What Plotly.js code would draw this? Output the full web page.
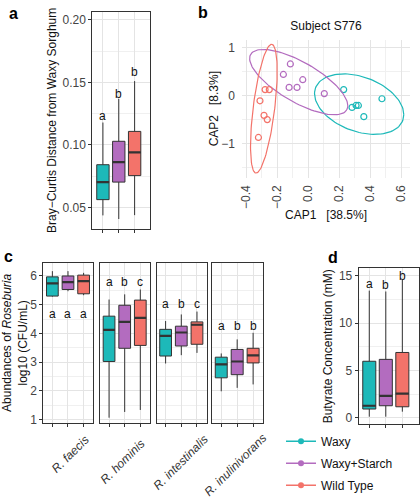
<!DOCTYPE html>
<html><head><meta charset="utf-8">
<script src="https://cdn.plot.ly/plotly-3.0.1.min.js"></script>
<style>html,body{margin:0;padding:0;background:#fff}#chart{width:420px;height:500px}</style>
</head><body><div id="chart"></div>
<script>
// ---------- data ----------
const groups = ['Waxy', 'Waxy+Starch', 'Wild Type'];

// Panel a: Bray-Curtis distance from waxy sorghum (box stats per group)
const aLow  = [0.0437, 0.0408, 0.0439];
const aQ1   = [0.0563, 0.0703, 0.0755];
const aMed  = [0.0703, 0.0863, 0.0940];
const aQ3   = [0.0842, 0.1029, 0.1108];
const aHigh = [0.1179, 0.1368, 0.1510];
const aLetters = ['a', 'b', 'b'];
const aLetterY = [0.1235, 0.1408, 0.1585];

// Panel b: CAP ordination, subject S776
const bWaxyX   = [0.230, 0.477, 0.284, 0.310, 0.325, 0.360];
const bWaxyY   = [0.124, -0.068, -0.248, -0.207, -0.207, -0.441];
const bStarchX = [-0.114, -0.159, -0.122, -0.071, -0.034, 0.105];
const bStarchY = [0.66, 0.44, 0.17, 0.17, 0.33, 0.04];
const bWildX   = [-0.277, -0.250, -0.310, -0.284, -0.263, -0.320];
const bWildY   = [0.124, 0.124, -0.110, -0.414, -0.503, -0.876];
// ellipse per group: centre, half-axis vectors (data units)
const bEllCentre = [[0.33, -0.18], [-0.06, 0.28], [-0.285, -0.275]];
const bEllAxisA  = [[0.288, -0.219], [0.31, -0.58], [0.05, 1.345]];
const bEllAxisB  = [[0.0, 0.593], [0.065, 0.36], [0.07, 0.0]];

// Panel c: abundances of Roseburia, log10 CFU/mL (rows: species, cols: groups)
const species = ['R. faecis', 'R. hominis', 'R. intestinalis', 'R. inulinivorans'];
const cLow  = [[5.28, 5.47, 5.33], [1.06, 1.26, 1.33], [2.95, 3.24, 3.32], [1.98, 2.10, 2.22]];
const cQ1   = [[5.30, 5.53, 5.38], [3.02, 3.48, 3.58], [3.21, 3.56, 3.62], [2.45, 2.56, 2.97]];
const cMed  = [[5.74, 5.79, 5.82], [4.12, 4.40, 4.54], [3.91, 4.03, 4.30], [2.92, 3.02, 3.23]];
const cQ3   = [[5.97, 6.00, 6.03], [4.60, 4.98, 5.16], [4.14, 4.25, 4.40], [3.17, 3.44, 3.48]];
const cHigh = [[6.17, 6.17, 6.11], [5.18, 5.36, 5.53], [4.43, 4.66, 4.76], [3.30, 3.79, 4.02]];
const cLetters = [['a', 'a', 'a'], ['a', 'b', 'c'], ['a', 'b', 'c'], ['a', 'b', 'b']];
const cLetterY = [4.66, 5.79, 5.03, 4.25];

// Panel d: butyrate concentration (mM)
const dLow  = [0.10, 0.10, 0.63];
const dQ1   = [0.91, 1.26, 1.15];
const dMed  = [1.26, 2.30, 2.55];
const dQ3   = [5.97, 6.17, 6.90];
const dHigh = [13.45, 13.36, 14.58];
const dLetters = ['a', 'b', 'b'];
const dLetterY = [14.1, 14.0, 15.05];

// ---------- style ----------
const colors = ['#1DB9B9', '#B36CBF', '#F3736A'];
const FONT = 'Liberation Sans, Arial, Helvetica, sans-serif';
const GRID = '#E4E4E4', MINOR = '#F0F0F0', EDGE = '#333333';
const W = 420, H = 500;
const px = v => v / W, py = v => 1 - v / H;

const traces = [], shapes = [], annotations = [];

function addBox(xa, ya, gi, low, q1, med, q3, high, width) {
  traces.push({
    type: 'box', xaxis: xa, yaxis: ya, x: [gi + 1],
    q1: [q1], median: [med], q3: [q3], lowerfence: [low], upperfence: [high],
    width: width, fillcolor: colors[gi], line: {color: EDGE, width: 1},
    whiskerwidth: 0, boxpoints: false, showlegend: false, hoverinfo: 'skip'
  });
  shapes.push({type: 'line', xref: xa, yref: ya, x0: gi + 1 - width / 2, x1: gi + 1 + width / 2,
    y0: med, y1: med, line: {color: EDGE, width: 2.2}});
}
function addLetter(xa, ya, gi, txt, y) {
  annotations.push({xref: xa, yref: ya, x: gi + 1, y: y, text: txt, showarrow: false,
    font: {family: FONT, size: 12, color: '#111'}, xanchor: 'center', yanchor: 'middle'});
}

// panel a
groups.forEach((g, i) => {
  addBox('x', 'y', i, aLow[i], aQ1[i], aMed[i], aQ3[i], aHigh[i], 0.78);
  addLetter('x', 'y', i, aLetters[i], aLetterY[i]);
});

// panel b points + ellipses
const bX = [bWaxyX, bStarchX, bWildX], bY = [bWaxyY, bStarchY, bWildY];
groups.forEach((g, i) => {
  const ex = [], ey = [];
  for (let k = 0; k <= 120; k++) {
    const t = 2 * Math.PI * k / 120;
    ex.push(bEllCentre[i][0] + Math.cos(t) * bEllAxisA[i][0] + Math.sin(t) * bEllAxisB[i][0]);
    ey.push(bEllCentre[i][1] + Math.cos(t) * bEllAxisA[i][1] + Math.sin(t) * bEllAxisB[i][1]);
  }
  traces.push({type: 'scatter', mode: 'lines', x: ex, y: ey, xaxis: 'x2', yaxis: 'y2',
    line: {color: colors[i], width: 1.2}, showlegend: false, hoverinfo: 'skip'});
  traces.push({type: 'scatter', mode: 'markers', x: bX[i], y: bY[i], xaxis: 'x2', yaxis: 'y2',
    marker: {symbol: 'circle-open', size: 6, color: colors[i], line: {width: 1.2, color: colors[i]}},
    showlegend: false, name: g});
});
// legend entries
groups.forEach((g, i) => {
  traces.push({type: 'scatter', mode: 'lines+markers', x: [null], y: [null], xaxis: 'x2', yaxis: 'y2',
    name: g, legendgroup: 'g' + i, line: {color: colors[i], width: 1.5},
    marker: {color: colors[i], size: 6}, showlegend: true});
});

// panel c facets
const cX = ['x3', 'x4', 'x5', 'x6'], cY = ['y3', 'y4', 'y5', 'y6'];
species.forEach((s, k) => {
  groups.forEach((g, i) => {
    addBox(cX[k], cY[k], i, cLow[k][i], cQ1[k][i], cMed[k][i], cQ3[k][i], cHigh[k][i], 0.75);
    addLetter(cX[k], cY[k], i, cLetters[k][i], cLetterY[k]);
  });
});
const specLabelPos = [[95, 435], [150, 439], [213, 435], [272, 433]];
species.forEach((s, k) => {
  annotations.push({xref: 'paper', yref: 'paper', x: px(specLabelPos[k][0]), y: py(specLabelPos[k][1]),
    text: '<i>' + s + '</i>', textangle: -45, showarrow: false, xanchor: 'right', yanchor: 'top',
    font: {family: FONT, size: 12, color: '#333'}});
});

// panel d
groups.forEach((g, i) => {
  addBox('x7', 'y7', i, dLow[i], dQ1[i], dMed[i], dQ3[i], dHigh[i], 0.79);
  addLetter('x7', 'y7', i, dLetters[i], dLetterY[i]);
});

// panel letters
[['a', 13, 14], ['b', 203, 13], ['c', 8, 260], ['d', 333, 261]].forEach(p => {
  annotations.push({xref: 'paper', yref: 'paper', x: px(p[1]), y: py(p[2]), text: '<b>' + p[0] + '</b>',
    showarrow: false, xanchor: 'center', yanchor: 'middle', font: {family: FONT, size: 16, color: '#000'}});
});

// ---------- axes ----------
const tickfont = {family: FONT, size: 12, color: '#444'};
const titlefont = {family: FONT, size: 12, color: '#111'};
function frameX(dom, range, anchor) {
  return {domain: dom, range: range, anchor: anchor, tickvals: [1, 2, 3], showticklabels: false,
    ticks: 'outside', ticklen: 3, tickcolor: EDGE, showline: true, mirror: true, linecolor: EDGE,
    linewidth: 1, showgrid: true, gridcolor: GRID, zeroline: false, fixedrange: true};
}
function frameY(dom, range, anchor, dtick, tick0, minorD, fmt) {
  return {domain: dom, range: range, anchor: anchor, dtick: dtick, tick0: tick0, tickformat: fmt,
    ticks: 'outside', ticklen: 3, tickcolor: EDGE, showline: true, mirror: true, linecolor: EDGE,
    linewidth: 1, showgrid: true, gridcolor: GRID, zeroline: false, tickfont: tickfont,
    minor: {dtick: minorD, tick0: tick0, showgrid: true, gridcolor: MINOR, ticks: ''}, fixedrange: true};
}

const layout = {
  width: W, height: H, margin: {l: 0, r: 0, t: 0, b: 0}, paper_bgcolor: '#fff', plot_bgcolor: '#fff',
  boxmode: 'overlay', showlegend: true, font: {family: FONT},
  title: {text: 'Subject S776', x: px(326), y: py(26), xanchor: 'center', yanchor: 'middle',
    xref: 'paper', yref: 'paper', font: {family: FONT, size: 12, color: '#111'}},
  legend: {x: px(281), y: py(432), xanchor: 'left', yanchor: 'top', bgcolor: 'rgba(0,0,0,0)',
    traceorder: 'grouped', tracegroupgap: 3, font: {family: FONT, size: 12, color: '#111'}},
  shapes: shapes, annotations: annotations,

  xaxis: frameX([px(92.3), px(150)], [0.33, 3.97], 'y'),
  yaxis: Object.assign(frameY([py(231.7), py(12)], [0.0329, 0.2063], 'x', 0.05, 0, 0.025, '.2f'),
    {title: {text: 'Bray−Curtis Distance from Waxy Sorghum', font: titlefont, standoff: 3}}),

  xaxis2: {domain: [px(242), px(410)], range: [-0.426, 0.658], anchor: 'y2', dtick: 0.2, tick0: 0,
    tickformat: '.1f', tickangle: -90, ticks: '', showline: false, showgrid: true, gridcolor: GRID,
    zeroline: false, tickfont: tickfont, ticklabelstandoff: 4,
    minor: {dtick: 0.1, tick0: 0, showgrid: true, gridcolor: MINOR},
    title: {text: 'CAP1\u00a0\u00a0\u00a0[38.5%]', font: titlefont, standoff: 2}, fixedrange: true},
  yaxis2: {domain: [py(180), py(40)], range: [-1.72, 1.17], anchor: 'x2', dtick: 1, tick0: 0,
    ticks: '', showline: false, showgrid: true, gridcolor: GRID, zeroline: false, tickfont: tickfont,
    ticklabelstandoff: 6, minor: {dtick: 0.5, tick0: 0, showgrid: true, gridcolor: MINOR},
    title: {text: 'CAP2\u00a0\u00a0\u00a0[8.3%]', font: titlefont, standoff: 0}, fixedrange: true},

  xaxis7: frameX([px(358.7), px(418.7)], [0.36, 3.99], 'y7'),
  yaxis7: Object.assign(frameY([py(429.3), py(271.7)], [-0.69, 15.8], 'x7', 5, 0, 2.5, 'd'),
    {title: {text: 'Butyrate Concentration (mM)', font: titlefont, standoff: 3}})
};
const cDom = [[43.3, 93.3], [100, 150], [156.5, 206.7], [212, 263]];
cDom.forEach((d, k) => {
  const n = k + 3;
  layout['xaxis' + n] = frameX([px(d[0]), px(d[1])], [0.42, 3.62], 'y' + n);
  const ya = frameY([py(428), py(266)], [0.88, 6.46], 'x' + n, 1, 0, 0.5, 'd');
  if (k === 0) {
    ya.title = {text: 'Abundances of <i>Roseburia</i><br>log10 (CFU/mL)', font: titlefont, standoff: 1};
  } else {
    ya.showticklabels = false; ya.ticks = '';
  }
  layout['yaxis' + n] = ya;
});

Plotly.newPlot('chart', traces, layout, {staticPlot: true, displayModeBar: false});
</script></body></html>
